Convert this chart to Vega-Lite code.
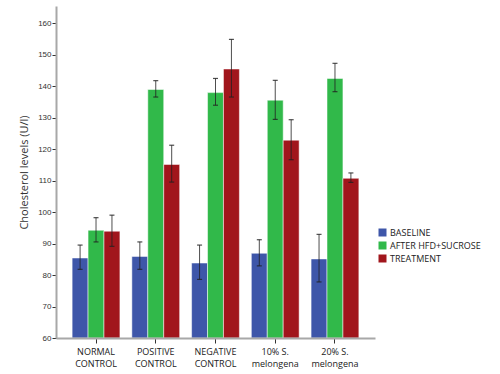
{
  "$schema": "https://vega.github.io/schema/vega-lite/v6.json",
  "autosize": {"type": "none"},
  "width": 319,
  "height": 332,
  "padding": {"left": 56, "top": 6, "right": 125, "bottom": 36},
  "background": "white",
  "data": {
    "values": [
      {"group": "NORMAL|CONTROL", "series": "BASELINE", "mean": 85.4, "lo": 81.8, "hi": 89.5},
      {"group": "NORMAL|CONTROL", "series": "AFTER HFD+SUCROSE", "mean": 94.2, "lo": 90.5, "hi": 98.2},
      {"group": "NORMAL|CONTROL", "series": "TREATMENT", "mean": 93.9, "lo": 89.1, "hi": 99.0},
      {"group": "POSITIVE|CONTROL", "series": "BASELINE", "mean": 85.9, "lo": 81.8, "hi": 90.5},
      {"group": "POSITIVE|CONTROL", "series": "AFTER HFD+SUCROSE", "mean": 138.9, "lo": 136.5, "hi": 141.7},
      {"group": "POSITIVE|CONTROL", "series": "TREATMENT", "mean": 115.1, "lo": 109.5, "hi": 121.2},
      {"group": "NEGATIVE|CONTROL", "series": "BASELINE", "mean": 83.8, "lo": 78.6, "hi": 89.5},
      {"group": "NEGATIVE|CONTROL", "series": "AFTER HFD+SUCROSE", "mean": 137.9, "lo": 133.9, "hi": 142.4},
      {"group": "NEGATIVE|CONTROL", "series": "TREATMENT", "mean": 145.4, "lo": 136.5, "hi": 154.8},
      {"group": "10% S.|melongena", "series": "BASELINE", "mean": 86.9, "lo": 82.9, "hi": 91.2},
      {"group": "10% S.|melongena", "series": "AFTER HFD+SUCROSE", "mean": 135.5, "lo": 129.4, "hi": 141.8},
      {"group": "10% S.|melongena", "series": "TREATMENT", "mean": 122.8, "lo": 116.6, "hi": 129.3},
      {"group": "20% S.|melongena", "series": "BASELINE", "mean": 85.1, "lo": 77.8, "hi": 92.9},
      {"group": "20% S.|melongena", "series": "AFTER HFD+SUCROSE", "mean": 142.4, "lo": 138.2, "hi": 147.2},
      {"group": "20% S.|melongena", "series": "TREATMENT", "mean": 110.7, "lo": 109.4, "hi": 112.4}
    ]
  },
  "config": {
    "view": {"stroke": null},
    "font": "Liberation Sans",
    "axisY": {"labelOverlap": false}
  },
  "encoding": {
    "x": {
      "field": "group",
      "type": "nominal",
      "sort": null,
      "scale": {"paddingInner": 0.2, "paddingOuter": 0.27},
      "axis": {
        "title": null,
        "labelAngle": 0,
        "labelExpr": "split(datum.label, '|')",
        "labelFont": "Open Sans",
        "labelFontSize": 9,
        "labelColor": "#222222",
        "labelLineHeight": 12,
        "labelPadding": 4,
        "domainColor": "#a8a8a8",
        "domainWidth": 2,
        "tickColor": "#333333",
        "tickSize": 5,
        "tickWidth": 1,
        "zindex": 1
      }
    },
    "y": {
      "field": "mean",
      "type": "quantitative",
      "scale": {"domain": [60, 165.4], "nice": false, "zero": false},
      "axis": {
        "title": "Cholesterol levels (U/l)",
        "titleFont": "Open Sans",
        "titleFontSize": 11,
        "titleFontWeight": "normal",
        "titleColor": "#333333",
        "titlePadding": 8,
        "values": [60, 70, 80, 90, 100, 110, 120, 130, 140, 150, 160],
        "labelOverlap": false,
        "labelFontSize": 8,
        "labelColor": "#333333",
        "labelPadding": 1,
        "grid": false,
        "domainColor": "#a8a8a8",
        "domainWidth": 2,
        "tickColor": "#333333",
        "tickSize": 4,
        "tickWidth": 1,
        "zindex": 1
      }
    },
    "xOffset": {"field": "series", "sort": ["BASELINE", "AFTER HFD+SUCROSE", "TREATMENT"]}
  },
  "layer": [
    {
      "mark": {"type": "bar", "stroke": "#ffffff", "strokeOpacity": 0.5, "strokeWidth": 1},
      "encoding": {
        "y2": {"datum": 60},
        "color": {
          "field": "series",
          "type": "nominal",
          "sort": ["BASELINE", "AFTER HFD+SUCROSE", "TREATMENT"],
          "scale": {"domain": ["BASELINE", "AFTER HFD+SUCROSE", "TREATMENT"], "range": ["#3e56a9", "#31b94a", "#a1161c"]},
          "legend": {
            "title": null,
            "orient": "none",
            "legendX": 322,
            "legendY": 222,
            "symbolType": "square",
            "symbolSize": 64,
            "symbolStrokeWidth": 0,
            "labelFont": "Open Sans",
            "labelFontSize": 9,
            "labelColor": "#222222",
            "rowPadding": 3,
            "labelOffset": 3,
            "labelLimit": 200
          }
        }
      }
    },
    {
      "mark": {"type": "rule", "color": "#222222", "strokeWidth": 1, "opacity": 0.8},
      "encoding": {
        "y": {"field": "lo", "type": "quantitative"},
        "y2": {"field": "hi"}
      }
    },
    {
      "mark": {"type": "tick", "color": "#222222", "size": 5, "thickness": 1.2, "opacity": 0.8},
      "encoding": {
        "y": {"field": "hi", "type": "quantitative"}
      }
    },
    {
      "mark": {"type": "tick", "color": "#222222", "size": 5, "thickness": 1.2, "opacity": 0.8},
      "encoding": {
        "y": {"field": "lo", "type": "quantitative"}
      }
    }
  ]
}
